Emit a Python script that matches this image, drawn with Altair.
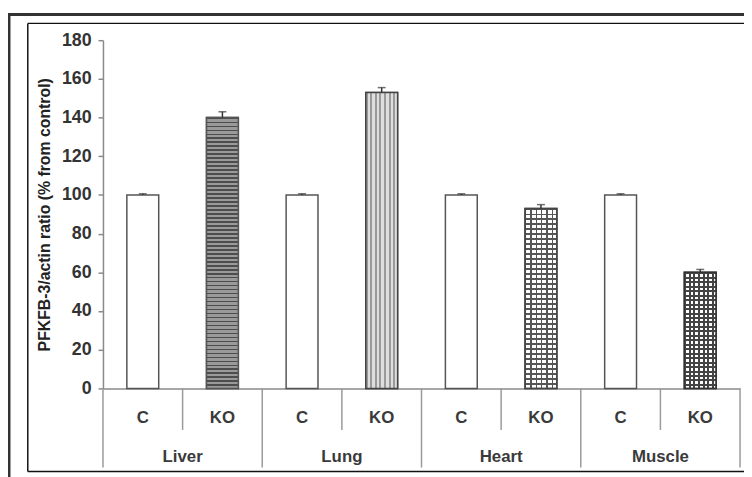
import altair as alt
import pandas as pd

tissues = ["Liver", "Lung", "Heart", "Muscle"]
groups = ["C", "KO"]
values = [100, 140, 100, 153, 100, 93, 100, 60]
errors = [0.6, 3.0, 0.6, 2.5, 0.6, 2.0, 0.6, 1.5]
y_ticks = [0, 20, 40, 60, 80, 100, 120, 140, 160, 180]
y_title = "PFKFB-3/actin ratio (% from control)"

rows = []
for i, t in enumerate(tissues):
    for j, g in enumerate(groups):
        k = 2 * i + j
        rows.append({"key": f"{t}|{g}", "tissue": t, "group": g,
                     "value": values[k], "err": errors[k],
                     "top": values[k] + errors[k]})
df = pd.DataFrame(rows)
order = list(df["key"])

FONT = "Liberation Sans"
W, H = 644, 352

xs = alt.Scale(paddingInner=0, paddingOuter=0)
x_axis = alt.Axis(labels=False, ticks=False, title=None, domainColor="#8a8a8a", domainWidth=1.5)
ys = alt.Scale(domain=[0, 180], nice=False)
y_axis = alt.Axis(values=y_ticks, title=y_title, domainColor="#8a8a8a", domainWidth=1.5,
                  tickColor="#8a8a8a", tickSize=5, tickWidth=1.5,
                  labelFont=FONT, labelFontWeight="bold", labelFontSize=18,
                  labelColor="#333", labelPadding=7, titleFont=FONT,
                  titleFontWeight="bold", titleFontSize=16, titleColor="#222",
                  titlePadding=9, grid=False)


def XE(band=0.5):
    return alt.X("key:N", sort=order, scale=xs, axis=x_axis, bandPosition=band)


def YE(field="value"):
    return alt.Y(f"{field}:Q", scale=ys, axis=y_axis, title=y_title)


X = alt.X("key:N", sort=order, scale=xs, axis=x_axis)
Y = YE()
BW = alt.RelativeBandSize(band=0.4)


def stripes(n, dark, light, frac, horizontal=True):
    stops = []
    for i in range(n):
        a = i / n
        b = (i + frac) / n
        c = (i + 1) / n
        stops += [alt.GradientStop(color=dark, offset=a), alt.GradientStop(color=dark, offset=b),
                  alt.GradientStop(color=light, offset=b), alt.GradientStop(color=light, offset=c)]
    if horizontal:
        return alt.LinearGradient(gradient="linear", stops=stops, x1=0, y1=0, x2=0, y2=1)
    return alt.LinearGradient(gradient="linear", stops=stops, x1=0, y1=0, x2=1, y2=0)


base = alt.Chart(df)

bars = base.mark_bar(width=BW, fill="white", stroke="#555", strokeWidth=1.5).encode(x=X, y=Y)

liver = base.transform_filter("datum.key == 'Liver|KO'").mark_bar(
    width=BW, fill=stripes(68, "#4d4d4d", "#9a9a9a", 0.4), stroke="#555", strokeWidth=1.5
).encode(x=X, y=Y)

lung = base.transform_filter("datum.key == 'Lung|KO'").mark_bar(
    width=BW, fill=stripes(7, "#9a9a9a", "#dedede", 0.45, horizontal=False), stroke="#444", strokeWidth=1.5
).encode(x=X, y=Y)

TR = "rgba(0,0,0,0)"
heart_v = base.transform_filter("datum.key == 'Heart|KO'").mark_bar(
    width=BW, fill=stripes(6, "#555", TR, 0.25, horizontal=False), strokeWidth=0
).encode(x=X, y=Y)
heart_h = base.transform_filter("datum.key == 'Heart|KO'").mark_bar(
    width=BW, fill=stripes(36, "#555", TR, 0.25), stroke="#444", strokeWidth=1.5
).encode(x=X, y=Y)

mus_v = base.transform_filter("datum.key == 'Muscle|KO'").mark_bar(
    width=BW, fill=stripes(7, "#444", TR, 0.45, horizontal=False), strokeWidth=0
).encode(x=X, y=Y)
mus_h = base.transform_filter("datum.key == 'Muscle|KO'").mark_bar(
    width=BW, fill=stripes(26, "#444", TR, 0.45), stroke="#333", strokeWidth=1.5
).encode(x=X, y=Y)

err_rule = base.mark_rule(color="#333", strokeWidth=1.5).encode(
    x=X, y=Y, y2="top:Q")
err_cap = base.mark_tick(color="#333", orient="horizontal", size=8, thickness=1.5).encode(
    x=X, y=YE("top"))

grp_labels = base.mark_text(font=FONT, fontWeight="bold", fontSize=17, color="#3a3a3a",
                            baseline="middle").encode(x=X, y=alt.value(382), text="group:N")

ko_df = df[df["group"] == "KO"]
c_df = df[df["group"] == "C"]
last_df = df.tail(1)

tis_labels = alt.Chart(ko_df).mark_text(font=FONT, fontWeight="bold", fontSize=17, color="#3a3a3a",
                                        baseline="middle").encode(
    x=XE(0), y=alt.value(421), text="tissue:N")

sep_small = alt.Chart(ko_df).mark_rule(color="#9a9a9a", strokeWidth=1.5).encode(
    x=XE(0), y=alt.value(H), y2=alt.value(394))
sep_big = alt.Chart(c_df).mark_rule(color="#9a9a9a", strokeWidth=1.5).encode(
    x=XE(0), y=alt.value(H), y2=alt.value(432))
sep_end = alt.Chart(last_df).mark_rule(color="#9a9a9a", strokeWidth=1.5).encode(
    x=XE(1), y=alt.value(H), y2=alt.value(432))

one = pd.DataFrame({"a": [0]})
frame = [
    alt.Chart(one).mark_rule(color="#333", strokeWidth=3).encode(
        x=alt.value(-95), y=alt.value(-27), y2=alt.value(450)),
    alt.Chart(one).mark_rule(color="#333", strokeWidth=3).encode(
        x=alt.value(-96), x2=alt.value(660), y=alt.value(-26)),
    alt.Chart(one).mark_rule(color="#111", strokeWidth=1.5).encode(
        x=alt.value(-76), y=alt.value(-17), y2=alt.value(436)),
    alt.Chart(one).mark_rule(color="#111", strokeWidth=1.5).encode(
        x=alt.value(-76), x2=alt.value(660), y=alt.value(-17)),
    alt.Chart(one).mark_rule(color="#111", strokeWidth=1.5).encode(
        x=alt.value(-76), x2=alt.value(660), y=alt.value(436)),
]

chart = alt.layer(
    bars, liver, lung, heart_v, heart_h, mus_v, mus_h, err_rule, err_cap,
    grp_labels, tis_labels, sep_small, sep_big, sep_end, *frame
).properties(
    width=W, height=H,
    autosize=alt.AutoSizeParams(type="none"),
    padding={"left": 96, "top": 30, "right": 4, "bottom": 87},
).configure_view(stroke="transparent")

chart.save("out.html", embed_options={"renderer": "svg", "actions": False})
